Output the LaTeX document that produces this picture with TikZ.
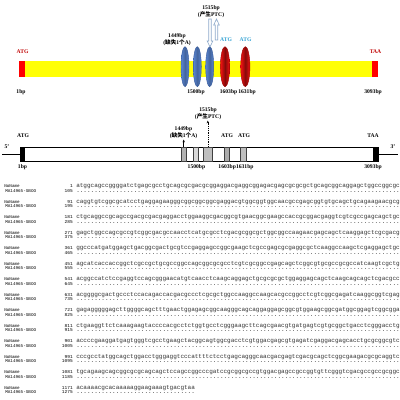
\documentclass[tikz,border=0pt]{standalone}
\usepackage{fontspec}
\setmainfont{Liberation Serif}
\newfontfamily\cjk{Noto Sans CJK SC}
\newfontfamily\seqfont{Liberation Mono}
\usetikzlibrary{arrows.meta}
\definecolor{ybar}{rgb}{1,1,0.02}
\definecolor{rcap}{HTML}{FF0000}
\definecolor{blueE}{HTML}{5A86D2}
\definecolor{blueD}{HTML}{34589A}
\definecolor{redE}{HTML}{F21212}
\definecolor{redD}{HTML}{9A0000}
\definecolor{atgc}{HTML}{31A2D4}
\definecolor{lblred}{HTML}{C00000}
\definecolor{arrowc}{HTML}{8FAACB}
\newcommand\tdots{..........}
\newcommand\ninetydots{\tdots\tdots\tdots\tdots\tdots\tdots\tdots\tdots\tdots}
\newcommand\alrow[5]{%
  \node[alname] (nn#2) at (4,#1) {NoName};
  \node[alname] (ma#2) at (5,#1+4.6) {MA14965-SBOO};
  \node[alnum] (n1#2) at (73,#1) {#2};
  \node[alnum] (n2#2) at (73,#1+4.6) {#3};
  \node[alseq] (s1#2) at (76,#1) {#4};
  \node[alseq] (s2#2) at (76,#1+4.6) {#5};
}
\tikzset{
  lbl/.style={font=\fontsize{4}{5}\selectfont\bfseries, inner sep=0pt, align=center},
  alname/.style={font=\seqfont\fontsize{3.05}{3.5}\selectfont, anchor=west, inner sep=0pt, text height=1.6pt, text depth=0.4pt},
  alnum/.style={font=\seqfont\fontsize{3.2}{3.5}\selectfont, anchor=east, inner sep=0pt, text height=1.6pt, text depth=0.4pt},
  alseq/.style={font=\seqfont\fontsize{4.26}{4.5}\selectfont, anchor=west, inner sep=0pt, text height=1.8pt, text depth=0.6pt, text=black!80},
  blueell/.style={draw=blueD, line width=0.3pt, left color=blueE, right color=blueE, middle color=blueE!75!black},
  redell/.style={draw=redD, line width=0.3pt, left color=redE, right color=redE, middle color=redE!55!black},
  hollow/.style={draw=arrowc, fill=white, line width=0.45pt},
  gbox/.style={draw=black!75, line width=0.4pt},
  tip/.style={-{Stealth[length=2pt,width=1.6pt]}, line width=0.35pt}
}
\begin{document}
\begin{tikzpicture}[x=0.025cm, y=-0.025cm]
\useasboundingbox (0,0) rectangle (400,400);
\fill[white] (0,0) rectangle (400,400);

% ---------- top diagram ----------
\path[fill=ybar, draw=none] (19,61.5) rectangle (378,76.7);
\fill[rcap] (19,61.5) rectangle (25,76.7);
\fill[rcap] (372,61.5) rectangle (378,76.7);
\draw[blueell] (185,66.7) ellipse [x radius=0.1cm, y radius=0.5cm];
\draw[blueell] (197.3,66.7) ellipse [x radius=0.1cm, y radius=0.5cm];
\draw[blueell] (209.7,66.7) ellipse [x radius=0.1cm, y radius=0.5cm];
\draw[redell] (225,66.7) ellipse [x radius=0.115cm, y radius=0.5cm];
\draw[redell] (245.3,66.7) ellipse [x radius=0.115cm, y radius=0.5cm];
\draw[hollow] (208.8,19) -- (211.2,19) -- (211.2,41) -- (212.8,41) -- (210,47) -- (207.2,41) -- (208.8,41) -- cycle;
\draw[hollow] (216.5,19) -- (219.3,25) -- (217.7,25) -- (217.7,40) -- (215.3,40) -- (215.3,25) -- (213.7,25) -- cycle;

\node[lbl] (t1515) at (211,11.5) {1515bp\\({\cjk 产生}PTC)};
\node[lbl] (t1449) at (177,40) {1449bp\\({\cjk 缺失}1{\cjk 个}A)};
\node[lbl, text=atgc] (tatg1) at (226,39.5) {ATG};
\node[lbl, text=atgc] (tatg2) at (245.5,39.5) {ATG};
\node[lbl, text=lblred] (tatg0) at (22.5,52) {ATG};
\node[lbl, text=lblred] (ttaa) at (375.5,52) {TAA};
\node[lbl] (t1) at (21,92) {1bp};
\node[lbl] (t1500) at (196,92) {1500bp};
\node[lbl] (t1603) at (228.5,92) {1603bp};
\node[lbl] (t1631) at (247,92) {1631bp};
\node[lbl] (t3093) at (373,92) {3093bp};

% ---------- bottom diagram ----------
\coordinate (l5a) at (2,154);
\coordinate (l5b) at (20,154);
\coordinate (l3a) at (378,154);
\coordinate (l3b) at (398,154);
\draw[line width=0.5pt] (l5a) -- (l5b);
\draw[line width=0.5pt] (l3a) -- (l3b);
\draw[line width=0.5pt, fill=white] (20,147) rectangle (378,161);
\fill[black] (20,147) rectangle (25.3,161);
\fill[black] (372.7,147) rectangle (378,161);
\draw[gbox, fill=gray!60] (181,147) rectangle (186.5,161);
\draw[gbox, fill=gray!30] (193,147) rectangle (198.5,161);
\draw[gbox, fill=gray!50] (203.3,147) rectangle (212.3,161);
\draw[gbox, fill=gray!65] (224,147) rectangle (229.3,161);
\draw[gbox, fill=gray!50] (240.7,147) rectangle (246,161);

\coordinate (a1s) at (183.7,147);
\coordinate (a1e) at (183.7,139.5);
\coordinate (a2s) at (207.8,147);
\coordinate (a2e) at (207.8,120.5);
\draw[tip] (a1s) -- (a1e);
\draw[tip, dash pattern=on 0.8pt off 0.8pt] (a2s) -- (a2e);

\node[lbl] (b1515) at (208,113.5) {1515bp\\({\cjk 产生}PTC)};
\node[lbl] (b1449) at (183.5,132.5) {1449bp\\({\cjk 缺失}1{\cjk 个}A)};
\node[lbl] (batg0) at (23,136) {ATG};
\node[lbl] (bataa) at (373,136) {TAA};
\node[lbl] (batg1) at (227,136) {ATG};
\node[lbl] (batg2) at (244,136) {ATG};
\node[lbl] (b5) at (7,146.5) {5'};
\node[lbl] (b3) at (393,146.5) {3'};
\node[lbl] (b1) at (22.5,167) {1bp};
\node[lbl] (b1500) at (196.5,167) {1500bp};
\node[lbl] (b1603) at (236,167) {1603bp1631bp};
\node[lbl] (b3093) at (373,167) {3093bp};

% ---------- alignment ----------
\alrow{187}{1}{105}{atggcagccggggatctgagcgcctgcagcgcgacgcggaggacgaggcggagacgagcgcgcgctgcagcggcaggagctggccggcgc}{\ninetydots}
\alrow{202.5}{91}{195}{caggtgtcggcgcatcctgaggagaagggcggcggcggcgaggacgtggcggtggcaacgccgagcggtgtgcagctgcagaagaacgcg}{\ninetydots}
\alrow{218}{181}{285}{ctgcaggccgcagccgacgcgacgaggacctggaaggcgacggcgtgaacggcgaagccaccgcggacgaggtcgtcgccgagcagctgc}{\ninetydots}
\alrow{233.5}{271}{375}{gagctggccagcgccgtcggcgacgccaacctcatgcgcctcgacgcggcgctggcggccaagaacgagcagctcaaggagctcgcgacg}{\ninetydots}
\alrow{249}{361}{465}{ggcccatgatggagctgacggcgactgcgtccgaggagccggcgaagctcgccgagcgcgaggcgctcaaggccaagctcgaggagctgc}{\ninetydots}
\alrow{264.5}{451}{555}{agcatcaccaccggctcgccgctgcgccggccagcggcgcgcctcgtcgcggccgagcagctcggcgtgcgccgcgccatcaagtcgctg}{\ninetydots}
\alrow{280}{541}{645}{acggccatctccgaggtccagcgggaacatgtcaacctcaagcaggagctgcgcgcgctggaggagcagctcaagcagcagctcgacgcc}{\ninetydots}
\alrow{295.5}{631}{735}{acggggcgactgccctccacagaccacgacgccctcgcgctggccaaggccaagcacgccggcctcgtcggcgagatcaaggcggtcgag}{\ninetydots}
\alrow{311}{721}{825}{gagagggggagcttggggcagctttgaactggagagcggcaagggcagcaggaggagcggcgtggaagcggcgatggcggagtcggcgga}{\ninetydots}
\alrow{326.5}{811}{915}{ctgaaggttctcaaagaagtaccccacgcctctggtgcctcgggaagcttcagcgaacgtgatgagtcgtgcggctgacctcgggacctg}{\ninetydots}
\alrow{342}{901}{1005}{accccgaaggatgagtgggtcgcctgaagctacggcagtggcgacctcgtggacgagcgtgagatcgaggacgagcacctgcgcggcgtc}{\ninetydots}
\alrow{357.5}{991}{1095}{cccgcctatggcagctggacctgggaggtcccattttctcctgagcagggcaacgacgagtcgacgcagctcggcgaagacgcgcaggtc}{\ninetydots}
\alrow{373}{1081}{1185}{tgcagaagcagcggcgcgcagcagctccagccggcccgatccgcggcgccgtggacgagccgccggtgttcgggtcgacgccgccgcggc}{\ninetydots}
\alrow{388.5}{1171}{1275}{acaaaacgcacaaaaaggaagaaagtgacgtaa}{\tdots\tdots\tdots...}
\end{tikzpicture}
\end{document}
